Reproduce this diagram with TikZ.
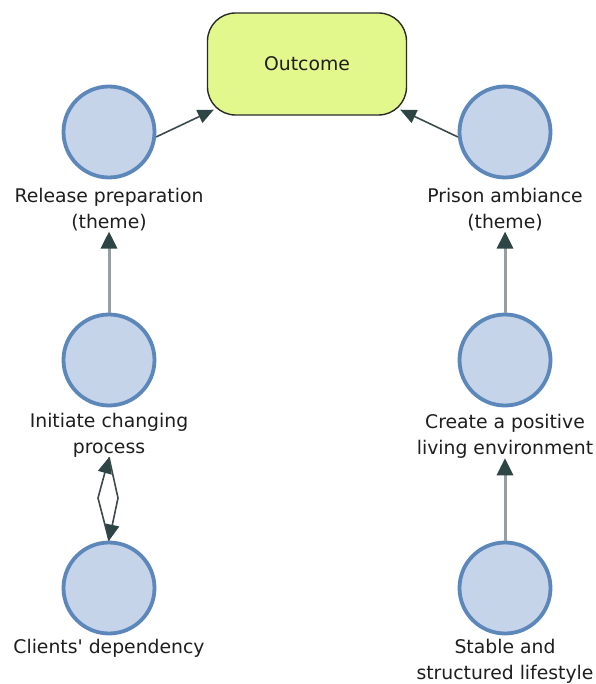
\documentclass[tikz,border=0pt]{standalone}
\usepackage{fontspec}
\setmainfont{DejaVu Sans}[Ligatures=TeXOff]
\usetikzlibrary{arrows.meta,calc}

\definecolor{ringblue}{HTML}{5B87BA}
\definecolor{circlefill}{HTML}{C6D4E9}
\definecolor{outcomefill}{HTML}{E2F78C}
\definecolor{outcomeborder}{HTML}{2A2A2A}
\definecolor{labeltext}{HTML}{1E1E1E}
\definecolor{edgegray}{HTML}{969FA3}
\definecolor{tipdark}{HTML}{2E4545}
\definecolor{linkdark}{HTML}{3C4A4E}

\begin{document}
\begin{tikzpicture}[x=1pt, y=-1pt,
  themecircle/.style={circle, draw=ringblue, line width=3.8pt, fill=circlefill,
    minimum size=91pt, inner sep=0pt},
  outcomebox/.style={rectangle, rounded corners=28pt, draw=outcomeborder,
    line width=1.4pt, fill=outcomefill, minimum width=199pt, minimum height=102pt,
    font=\fontsize{18.8}{26}\selectfont, text=labeltext},
  caption/.style={align=center, font=\fontsize{18.8}{26}\selectfont,
    text=labeltext, inner sep=0pt},
  upline/.style={draw=edgegray, line width=3pt,
    -{Triangle[length=17pt 0, width=16pt 0, color=tipdark]}},
  linkline/.style={draw=linkdark, line width=1.6pt,
    -{Triangle[length=16pt 0, width=14pt 0, color=tipdark]}}]

  % canvas
  \fill[white] (0,0) rectangle (595,684);
  \useasboundingbox (0,0) rectangle (595,684);

  % target node
  \node[outcomebox] (outcome) at (307,64) {Outcome};

  % left column
  \node[themecircle] (c1) at (109,132) {};
  \node[caption] (l1) at (109,210) {Release preparation\\(theme)};
  \node[themecircle] (c2) at (109,360) {};
  \node[caption] (l2) at (109,435) {Initiate changing\\process};
  \node[themecircle] (c3) at (109,588) {};
  \node[caption] (l3) at (109,648) {Clients' dependency};

  % right column
  \node[themecircle] (r1) at (505,132) {};
  \node[caption] (rl1) at (505,210) {Prison ambiance\\(theme)};
  \node[themecircle] (r2) at (505,360) {};
  \node[caption] (rl2) at (505,436) {Create a positive\\living environment};
  \node[themecircle] (r3) at (505,588) {};
  \node[caption] (rl3) at (505,661) {Stable and\\structured lifestyle};

  % entry points on the rounded corners of the target
  \coordinate (outSW) at ($(outcome.south west)+(7,-6)$);
  \coordinate (outSE) at ($(outcome.south east)+(-7,-6)$);

  % bend points of the two-way link
  \coordinate (lensL) at (98,498);
  \coordinate (lensR) at (118,498);

  % connectors
  \draw[linkline] (c1.-6) -- (outSW);
  \draw[linkline] (r1.186) -- (outSE);

  \draw[upline] (c2.north) -- (l1.south);
  \draw[upline] (r2.north) -- (rl1.south);
  \draw[upline] (r3.north) -- (rl2.south);

  \draw[linkline] (c3.north) -- (lensL) -- (l2.south);
  \draw[linkline] (l2.south) -- (lensR) -- (c3.north);
\end{tikzpicture}
\end{document}
